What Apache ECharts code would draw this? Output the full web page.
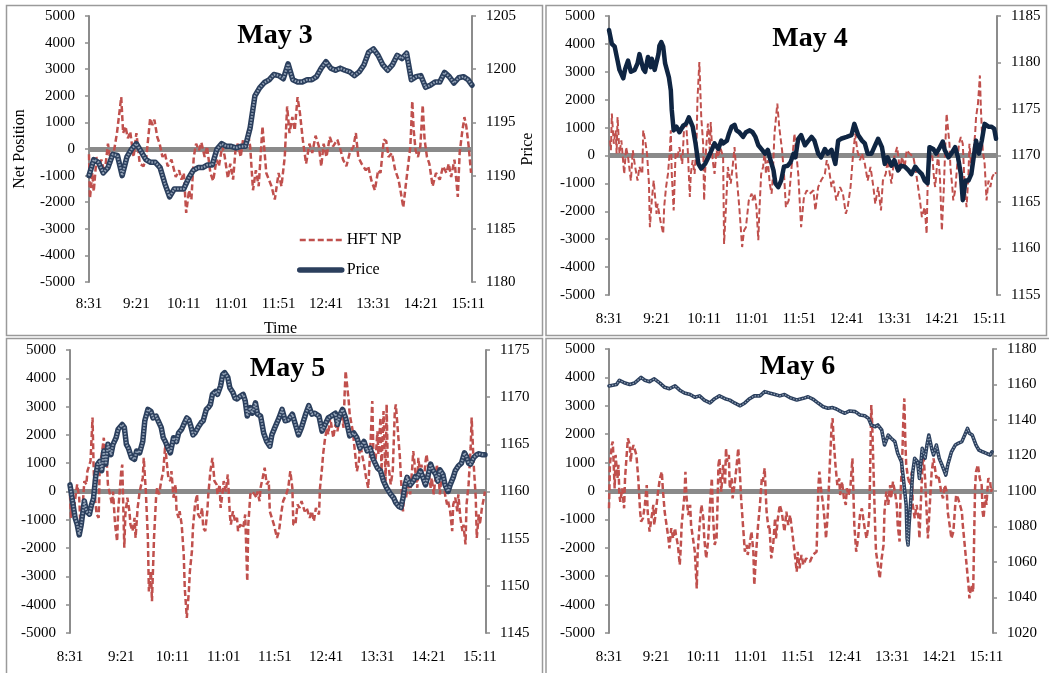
<!DOCTYPE html>
<html><head><meta charset="utf-8">
<script src="https://cdn.jsdelivr.net/npm/echarts@6/dist/echarts.min.js"></script>
<style>html,body{margin:0;padding:0;background:#fff}#c{width:1049px;height:673px}</style>
</head><body><div id="c"></div>
<script>
// ---------------- DATA (time = minutes after 8:31) ----------------
const timeLabels = ['8:31','9:21','10:11','11:01','11:51','12:41','13:31','14:21','15:11'];
const dayTitles = ['May 3','May 4','May 5','May 6'];
const netPosAxis = [-5000, 5000, 1000];
const priceAxes = [[1180,1205,5],[1155,1185,5],[1145,1175,5],[1020,1180,20]];

const may3NetPos = [[0,-200],[1,-1850],[3.5,-900],[5,-1600],[8,-300],[10.5,-650],[13,-400],[16.5,-900],[20,200],[23,-550],
[26,-150],[29.5,600],[34,1950],[36,600],[38.5,850],[41,400],[43.5,650],[47,-300],[50,600],[53.5,-550],
[57.5,-650],[60.5,-300],[64.5,1150],[67,900],[69,1100],[72,450],[74.5,200],[77.5,-300],[80,-150],[83,-650],
[87,-400],[91.5,-1050],[95,-800],[97.5,-1150],[100,-900],[102.5,-2400],[105.5,-1550],[108,-1900],[110.5,-300],[113,200],
[116,-50],[118.5,250],[122,-300],[124.5,100],[128,-900],[131,-1200],[134.5,-400],[137,-650],[140.5,100],[143,-250],
[146.5,-1100],[149,-550],[152,-1150],[154.5,-50],[157,200],[160,-300],[162.5,350],[166,200],[167.5,650],[170,100],
[173,-1550],[176,-800],[179,-1400],[183,850],
[187,-900],[192.5,-1400],[196,-1900],[200,-900],[203,-1400],[206.5,-300],[209,1600],[211.5,600],[214.5,1200],[217,700],
[220,1950],[222.5,1350],[225.5,350],[229,-550],[232.5,200],[235.5,-150],[239,500],[242.5,100],[245,-650],[247.5,200],
[250.5,-300],[254,450],[257.5,100],[262,350],[265,0],[268,-400],[271.5,-650],[275,-150],[279,100],[281.5,600],
[284,-300],[287.5,-550],[292,-800],[294.5,-650],[298,-1200],[301.5,-1550],[305,-800],[307.5,-900],[311,350],[313.5,300],
[316,-300],[319.5,-150],[323,-800],[326.5,-1150],[329,-1650],[331.5,-2200],[334,-1400],[336.5,-650],[339,100],[341,1800],
[342.5,700],[344.5,-50],[347,-300],[349.5,100],[352,1650],[354,350],[356.5,-300],[359,-550],[362.5,-1400],[366,-900],
[370,-1150],[373.5,-650],[377,-900],[379.5,-550],[382,-1050],[385.5,-400],[389,-1800],[391,-150],[393.5,600],[396,1200],
[398,850],[400.5,100],[403,-900]];

const may3Price = [[0,1190.0],[5,1191.5],[10,1191.25],[15,1190.25],[20,1190.75],[25,1192.0],[30,1191.9],[35,1190.0],[40,1191.75],[45,1192.5],
[50,1193.0],[55,1192.25],[60,1191.5],[65,1191.25],[70,1191.25],[75,1190.75],[80,1189.25],[85,1188.0],[90,1188.75],[95,1188.75],
[100,1188.75],[105,1189.75],[110,1190.5],[115,1190.75],[120,1190.75],[125,1191.0],[130,1191.0],[135,1192.5],[140,1193.0],[145,1192.75],
[150,1192.75],[155,1192.6],[160,1192.75],[165,1192.75],[170,1194.5],[175,1197.5],[180,1198.25],[185,1198.75],[190,1199.0],[195,1199.5],
[200,1199.4],[205,1199.1],[210,1200.5],[215,1199.0],[220,1198.8],[225,1198.8],[230,1199.0],[235,1199.0],[240,1199.3],[245,1200.1],
[250,1200.7],[255,1200.1],[260,1199.9],[265,1200.1],[270,1199.9],[275,1199.75],[280,1199.4],[285,1199.75],[290,1200.4],[295,1201.6],
[300,1201.9],[305,1201.3],[310,1200.4],[315,1199.9],[320,1200.4],[325,1201.3],[330,1201.0],[335,1201.5],[340,1199.0],[345,1199.3],
[350,1199.4],[355,1198.3],[360,1198.5],[365,1198.8],[370,1198.8],[375,1199.7],[380,1199.3],[385,1198.7],[390,1199.2],[395,1199.3],
[400,1199.0],[404,1198.5]];

const may4NetPos = [[1,540],[2,190],[3,1500],[5,420],[7,900],[8,70],[9,1380],[11,70],[13,540],[16,-660],[18,300],[20,-50],[23,-900],[25,190],[27,-300],[30,-900],[32,-410],[35,-660],[36,900],[38,540],
[40,70],[42,-1000],[43,-2570],[45,-1600],[47,-900],[50,-2090],[51,-1730],[54,-2330],[57,-2800],[58,-1850],[60,-1130],[62,-660],[64,190],[65,900],[66,-660],[68,-1970],[70,70],[72,-50],[74,300],[77,-300],
[79,1020],[81,1260],[83,70],[85,-1490],[86,-660],[88,-170],[90,-660],[92,420],[93,1980],[95,3350],[97,1380],[99,420],[100,-1610],[102,190],[104,1140],[106,190],[107,1200],[109,-170],[111,-660],[113,190],
[115,-50],[117,300],[120,-50],[121,-3170],[123,-1850],[125,-410],[128,-1010],[130,-410],[132,300],[134,-660],[137,-1850],[140,-3280],[142,-2690],[144,-2570],[147,-1610],[150,-1370],[151,-1610],[153,-1370],[155,-1850],[157,-3040],
[158,-2090],[160,-660],[162,-410],[164,190],[165,-660],[167,-170],[169,-1010],[171,-1370],[172,-900],[174,780],[177,1860],[179,1020],[182,190],[184,-660],[186,-1850],[189,-1610],[192,-410],[195,780],[199,-660],[202,-2570],
[205,-1490],[208,-1250],[211,-1370],[215,-1250],[217,-1970],[220,-1130],[223,-900],[227,-660],[229,-170],[231,-410],[234,-1130],[236,-900],[239,-1610],[243,-1130],[246,-1370],[249,-2090],[251,-1850],[254,-1130],[257,190],[259,780],
[261,190],[264,-170],[266,70],[269,-300],[272,-900],[275,-410],[278,-1130],[280,-1730],[283,-1130],[286,-1970],[288,-900],[291,-660],[293,-170],[297,-1010],[300,-50],[303,300],[306,-540],[308,-50],[311,-410],[313,190],
[316,70],[320,-50],[322,-410],[325,-1130],[327,-1610],[329,-2210],[332,-1850],[334,-2810],[335,-1130],[337,70],[340,-50],[342,-900],[343,-1130],[346,70],[348,-770],[350,-2690],[352,-1250],[354,660],[355,1500],[358,420],
[359,-410],[361,-1130],[362,-1610],[364,-1250],[366,-410],[368,420],[370,660],[372,420],[374,-1130],[376,-1850],[378,-660],[379,420],[381,-410],[383,70],[385,780],[386,1380],[388,1860],[390,2870],[391,1740],[393,190],
[395,-300],[397,-1610],[399,-900],[401,-1130],[403,-770],[406,-590],[407,-660]];

const may4Price = [[0,1183.5],[3,1182.0],[6,1181.7],[9,1180.2],[11,1179.2],[15,1178.3],[17,1179.3],[20,1180.2],[23,1179.0],[27,1179.2],
[30,1179.9],[32,1180.9],[36,1179.3],[38,1179.0],[41,1180.6],[44,1179.5],[45,1180.4],[48,1179.2],[52,1180.9],[53,1181.8],
[55,1182.2],[57,1181.7],[59,1179.9],[63,1178.4],[65,1177.0],[66,1174.9],[68,1172.7],[71,1173.1],[74,1172.5],[78,1173.2],
[81,1173.4],[84,1174.1],[86,1174.1],[88,1173.1],[91,1171.3],[94,1169.1],[97,1168.6],[101,1169.1],[104,1169.7],[108,1170.6],
[111,1171.3],[115,1170.7],[118,1171.6],[120,1171.3],[124,1171.6],[126,1172.3],[129,1173.1],[132,1173.3],[134,1172.7],[137,1172.5],
[141,1172.0],[144,1172.5],[148,1172.7],[151,1172.5],[154,1172.0],[157,1171.1],[161,1170.6],[164,1170.2],[167,1170.6],[169,1169.8],
[173,1168.4],[175,1167.0],[178,1166.6],[181,1167.3],[184,1168.8],[188,1168.9],[191,1169.3],[194,1170.2],[196,1169.8],[199,1171.8],
[202,1172.2],[206,1171.1],[209,1171.5],[213,1172.0],[216,1171.6],[220,1170.2],[223,1169.8],[227,1170.7],[230,1170.2],[234,1170.6],
[238,1169.1],[241,1171.6],[244,1171.8],[250,1172.0],[255,1172.2],[258,1173.4],[262,1172.2],[266,1171.6],[269,1171.3],[272,1170.2],
[276,1170.2],[279,1170.9],[283,1171.8],[287,1170.9],[290,1169.1],[293,1169.8],[297,1168.9],[300,1169.5],[304,1168.4],[307,1168.9],
[311,1168.8],[315,1168.4],[318,1168.0],[322,1168.8],[325,1168.4],[329,1168.0],[332,1167.3],[335,1167.0],[337,1170.9],[341,1170.7],
[344,1170.2],[348,1170.9],[351,1171.5],[353,1170.6],[357,1169.8],[360,1170.2],[364,1170.9],[367,1169.8],[370,1168.0],[372,1165.2],
[375,1167.3],[378,1167.3],[381,1168.0],[384,1170.2],[386,1171.6],[389,1170.2],[392,1171.6],[395,1173.4],[399,1173.1],[402,1173.1],
[405,1172.9],[407,1171.8]];

const may5NetPos = [[0,-100],[1,-930],[2,-220],[4,-580],[6,0],[7,250],[9,-220],[10,-1050],[12,-700],[14,370],[16,250],[17,720],[20,1070],[22,2610],[23,950],[24,-100],[26,-810],[28,-930],[29,950],[31,1310],
[33,1900],[34,1430],[36,950],[37,250],[39,-100],[41,-460],[42,0],[44,-1170],[46,-1760],[47,-700],[50,720],[51,950],[53,-1990],[54,-810],[56,-220],[58,-700],[59,-1170],[61,-1400],[63,-930],[64,-1640],
[66,-580],[68,0],[71,480],[72,1190],[74,0],[76,-1640],[77,-3530],[79,-2820],[80,-3880],[82,-1640],[84,-220],[85,130],[87,-100],[89,370],[91,720],[93,1660],[94,1190],[96,480],[98,370],[99,720],
[101,-220],[103,250],[104,-700],[106,-930],[107,-700],[109,-1170],[111,-2230],[112,-3410],[114,-4470],[116,-3530],[117,-2820],[119,-2110],[120,-1290],[122,-460],[124,-100],[125,-810],[127,-930],[129,-580],[130,-1290],[132,-1400],
[134,-700],[135,-100],[137,720],[139,1190],[141,370],[143,250],[144,-100],[146,250],[147,-580],[149,0],[150,370],[152,0],[154,600],[156,-810],[157,-1170],[159,-700],[161,-1050],[163,-930],[164,-1400],[166,-1170],
[169,-1290],[171,-810],[173,-3170],[174,-1170],[176,-100],[178,0],[180,-100],[182,-220],[183,0],[185,-340],[186,130],[188,480],[190,840],[192,250],[194,370],[195,-700],[199,-1170],[202,-1640],[204,-1400],[206,-810],
[208,-340],[211,-100],[213,130],[215,720],[217,130],[218,-1170],[220,-1170],[222,-460],[224,-580],[226,-340],[229,-700],[231,-580],[234,-930],[236,-700],[238,-1050],[240,-580],[243,-810],[244,130],[246,840],[247,1310],
[249,1900],[251,2250],[252,2020],[254,2610],[256,2130],[257,1900],[259,2370],[261,2130],[263,2610],[265,2720],[267,2250],[268,3430],[269,4260],[271,3550],[272,3200],[273,2720],[276,2130],[278,1430],[280,720],[282,1070],
[283,1780],[285,1310],[287,950],[289,480],[291,130],[293,1430],[295,3200],[296,1540],[298,950],[300,2130],[301,1310],[303,2610],[304,720],[306,2840],[308,370],[309,3080],[310,1190],[313,250],[315,720],[317,2840],
[318,3080],[320,2130],[322,1190],[323,480],[325,-700],[327,250],[328,-220],[330,370],[332,-100],[334,840],[335,1430],[337,720],[339,130],[340,1190],[342,480],[343,950],[345,250],[347,1070],[348,1310],[350,720],
[352,130],[353,480],[355,-100],[356,250],[358,950],[360,370],[361,-100],[363,720],[365,370],[366,-100],[368,-460],[369,-340],[371,-700],[373,-1400],[374,-460],[376,-220],[378,-700],[379,-100],[381,-930],[383,-1400],
[384,-1170],[386,-1870],[387,-460],[389,250],[391,1540],[392,2610],[394,950],[396,-220],[397,-1640],[399,-810],[400,-1170],[402,-580],[404,-220],[405,0]];

const may5Price = [[0,1160.7],[3,1158.6],[5,1157.2],[7,1156.5],[9,1155.4],[11,1156.5],[14,1159.0],[16,1157.9],[19,1157.6],[21,1158.6],
[23,1159.3],[25,1161.5],[27,1162.9],[29,1163.2],[31,1162.2],[33,1164.3],[35,1162.9],[37,1165.0],[40,1163.9],[42,1165.0],
[45,1165.7],[47,1166.6],[51,1167.1],[53,1166.8],[55,1165.0],[57,1164.6],[60,1163.6],[63,1163.4],[65,1164.3],[68,1164.1],
[71,1165.3],[73,1167.5],[76,1168.7],[79,1168.5],[81,1167.8],[84,1168.0],[86,1167.5],[89,1166.8],[91,1165.7],[93,1165.3],
[96,1164.5],[98,1164.1],[101,1165.7],[104,1165.3],[106,1166.2],[109,1166.6],[111,1167.1],[114,1167.8],[116,1167.6],[118,1166.9],
[120,1166.0],[122,1166.2],[125,1166.8],[128,1167.3],[130,1167.5],[133,1168.7],[135,1168.9],[137,1169.2],[139,1170.3],[142,1170.6],
[144,1170.3],[147,1171.2],[149,1172.4],[151,1172.6],[154,1172.1],[156,1171.0],[159,1170.5],[161,1169.9],[163,1169.8],[166,1170.1],
[169,1170.3],[171,1169.6],[173,1168.0],[176,1168.9],[178,1168.3],[181,1169.4],[183,1168.2],[186,1168.0],[189,1166.2],[192,1165.3],
[195,1164.8],[197,1166.0],[200,1166.8],[204,1167.8],[207,1168.7],[210,1167.5],[213,1167.6],[217,1168.2],[220,1167.1],[223,1166.0],
[226,1166.8],[230,1168.2],[233,1169.1],[236,1168.2],[239,1168.3],[243,1168.0],[246,1166.4],[249,1167.1],[252,1167.8],[255,1168.0],
[259,1168.3],[261,1167.1],[263,1168.0],[266,1168.7],[269,1167.8],[271,1166.9],[273,1165.9],[277,1166.2],[280,1165.7],[283,1164.6],
[287,1165.3],[290,1164.3],[293,1164.6],[296,1163.4],[300,1162.5],[303,1162.2],[306,1161.1],[309,1160.4],[313,1159.7],[316,1159.3],
[318,1158.8],[321,1158.4],[323,1158.3],[325,1159.3],[327,1160.7],[329,1161.5],[332,1160.7],[335,1161.1],[337,1161.6],[339,1161.5],
[342,1162.2],[344,1161.6],[347,1160.7],[349,1161.5],[352,1162.9],[354,1162.3],[357,1161.8],[359,1161.1],[361,1162.3],[364,1161.8],
[366,1160.7],[369,1160.0],[371,1160.7],[374,1161.5],[376,1162.2],[379,1162.7],[382,1163.0],[385,1164.1],[387,1163.7],[389,1163.0],
[391,1162.9],[394,1163.6],[397,1163.9],[399,1164.0],[402,1163.9],[405,1163.9]];

const may6NetPos = [[0,-610],[1,920],[3,1620],[4,1740],[5,920],[6,90],[7,1270],[9,450],[10,920],[11,-140],[12,-380],[14,90],[16,-610],[17,450],[19,1390],[20,1850],[22,1620],[23,1030],[24,1390],[26,1620],
[27,1500],[29,1270],[31,450],[33,-730],[34,-1080],[36,-960],[38,-490],[40,210],[41,-730],[43,-1430],[45,-960],[47,-490],[48,-1200],[50,-610],[52,-20],[54,450],[56,680],[57,90],[59,-730],[61,-1200],
[63,-1670],[64,-2020],[66,-1310],[68,-1670],[70,-1310],[71,-1550],[73,-1900],[75,-2600],[76,-2020],[77,-1200],[80,-140],[81,680],[82,-140],[84,-850],[86,-490],[87,-1200],[89,-1670],[91,-2140],[93,-3430],[94,-2140],
[96,-1200],[98,-490],[100,-960],[101,-1670],[103,-2370],[105,-1780],[107,-490],[109,450],[110,-730],[112,-1900],[114,-1670],[115,-490],[116,920],[117,1150],[119,-20],[121,920],[123,210],[124,1500],[125,1030],[127,1270],
[128,90],[130,450],[131,-260],[133,210],[135,800],[137,1500],[139,450],[140,-260],[142,-1200],[144,-2140],[146,-1900],[147,-2250],[149,-1900],[151,-1430],[153,-2140],[154,-3310],[156,-2140],[158,-1200],[160,-490],[162,450],
[163,330],[165,800],[167,-730],[169,-1310],[170,-1200],[172,-2370],[174,-1900],[176,-960],[177,-1670],[179,-960],[181,-490],[183,-730],[185,-1200],[186,-1430],[188,-730],[190,-1200],[192,-850],[195,-1670],[199,-2840],[200,-2140],
[202,-2720],[204,-2250],[206,-2600],[209,-2370],[213,-2490],[216,-2250],[220,-2140],[222,210],[223,680],[225,-20],[227,-490],[229,-1200],[230,-1670],[232,-730],[234,920],[236,2320],[237,2560],[238,1850],[240,920],[242,210],
[244,450],[245,-140],[247,330],[249,-260],[251,-490],[252,90],[254,-140],[256,210],[258,1150],[259,-20],[260,-1200],[262,-2140],[264,-1670],[266,-850],[268,-610],[269,-850],[271,-1310],[273,-1670],[275,-1200],[276,-730],
[278,3030],[279,2320],[281,-20],[282,-1200],[283,-2140],[285,-2600],[287,-3080],[289,-2370],[291,-1900],[292,-730],[294,-20],[296,-490],[298,210],[299,-260],[301,330],[303,-20],[305,-490],[306,-1200],[308,-1780],[309,-140],
[311,1390],[312,2560],[313,3260],[314,1850],[315,920],[317,450],[319,210],[321,680],[322,-490],[324,-960],[326,-490],[328,-960],[329,-1670],[331,-20],[333,1390],[335,450],[336,-260],[338,-1670],[340,-490],[342,680],
[344,1150],[345,920],[347,450],[349,560],[351,210],[352,-20],[354,-260],[356,210],[358,-20],[359,-730],[361,-1200],[363,-1670],[365,-1430],[367,-490],[368,-140],[370,-260],[372,-490],[374,-730],[375,-1200],[377,-1900],
[379,-2600],[381,-3310],[382,-3780],[384,-3310],[386,-3550],[387,-1670],[388,90],[389,680],[391,920],[393,450],[395,210],[396,-730],[397,-960],[399,-140],[400,-490],[402,450],[404,330],[405,-20],[406,90]];

const may6Price = [[0,1159.2],[8,1160.0],[11,1162.4],[17,1160.8],[22,1160.0],[27,1160.8],[34,1164.0],[38,1162.4],[43,1161.6],[48,1163.2],
[54,1160.8],[59,1158.4],[64,1157.6],[70,1159.2],[75,1156.8],[80,1155.2],[86,1154.4],[91,1152.8],[96,1153.6],[101,1151.2],
[107,1149.6],[112,1152.0],[117,1153.6],[123,1152.0],[128,1151.2],[133,1149.6],[139,1148.0],[144,1149.6],[149,1152.0],[154,1153.6],
[160,1153.6],[165,1156.0],[170,1155.2],[176,1154.4],[181,1153.6],[186,1154.4],[192,1152.5],[199,1151.3],[206,1152.2],[211,1153.1],
[216,1151.8],[222,1149.4],[227,1147.5],[232,1146.6],[237,1147.0],[241,1146.2],[246,1144.7],[250,1143.8],[255,1145.1],[261,1144.7],
[266,1142.8],[271,1142.4],[275,1140.9],[278,1137.2],[282,1136.2],[285,1137.2],[289,1134.4],[292,1125.9],[296,1131.5],[299,1129.7],
[303,1127.8],[306,1121.2],[310,1116.5],[312,1107.1],[315,1092.1],[316,1073.3],[317,1069.6],[318,1080.8],[320,1095.9],[322,1110.9],
[324,1118.4],[327,1116.5],[329,1107.1],[332,1124.0],[335,1118.4],[337,1125.9],[339,1131.5],[342,1124.0],[344,1120.3],[347,1125.9],
[350,1118.4],[353,1114.6],[357,1109.0],[359,1114.6],[363,1122.1],[367,1125.9],[370,1126.8],[374,1127.8],[377,1131.5],[380,1135.3],
[382,1132.5],[385,1131.5],[389,1125.9],[392,1123.1],[396,1122.1],[400,1121.2],[404,1120.3],[406,1122.1]];

// ---------------- LAYOUT / STYLE ----------------
const FONT = 'Liberation Serif';
const AXIS_GREY = '#8c8c8c';
const NP_RED = '#c0504d';
const panels = [
  {np: may3NetPos, price: may3Price, grid:{left:89,top:16,width:383,height:266}, xMax:404, labelMargin:15, npWidth:2.5,
   pStyle:{base:'#2b3f5d', width:5.5, tex:'#93a2b6', texWidth:2.2}, title:[275,35.5]},
  {np: may4NetPos, price: may4Price, grid:{left:609,top:16,width:388,height:279}, xMax:408, labelMargin:17, npWidth:2,
   pStyle:{base:'#0f2542', width:4.5}, title:[810,38.8]},
  {np: may5NetPos, price: may5Price, grid:{left:70,top:350,width:416,height:283}, xMax:406, labelMargin:17, npWidth:2.5,
   pStyle:{base:'#2b3f5d', width:5.5, tex:'#93a2b6', texWidth:2.2}, title:[287.5,368.5]},
  {np: may6NetPos, price: may6Price, grid:{left:609,top:349,width:384,height:284}, xMax:407, labelMargin:17, npWidth:2.5,
   pStyle:{base:'#2b3f5d', width:3.6, tex:'#9aa9bc', texWidth:1.2}, title:[797.5,366.8]}
];

const grids = [], xAxes = [], yAxes = [], series = [], graphics = [];
const lbl = {fontFamily: FONT, fontSize: 15, color: '#000'};
const plain = (v) => String(v);

panels.forEach((p, i) => {
  grids.push(Object.assign({containLabel:false}, p.grid));
  xAxes.push({
    type:'value', gridIndex:i, min:0, max:p.xMax, interval:50,
    axisLine:{show:false, onZero:false}, axisTick:{show:false}, splitLine:{show:false},
    axisLabel:Object.assign({margin:p.labelMargin, formatter:(v)=> (v % 50 === 0 && timeLabels[v/50]) ? timeLabels[v/50] : ''}, lbl),
    name: i === 0 ? 'Time' : '', nameLocation:'middle', nameGap:39,
    nameTextStyle:{fontFamily:FONT, fontSize:16, color:'#000'}
  });
  const yCommon = {
    type:'value', gridIndex:i,
    axisLine:{show:true, onZero:false, lineStyle:{color:AXIS_GREY, width:2}},
    axisTick:{show:true, length:4, lineStyle:{color:AXIS_GREY, width:1.5}},
    splitLine:{show:false}
  };
  yAxes.push(Object.assign({}, yCommon, {
    position:'left', min:netPosAxis[0], max:netPosAxis[1], interval:netPosAxis[2],
    axisLabel:Object.assign({margin:14, formatter:plain}, lbl),
    name: i === 0 ? 'Net Position' : '', nameLocation:'middle', nameGap:61, nameRotate:90,
    nameTextStyle:{fontFamily:FONT, fontSize:16, color:'#000'}
  }));
  const pr = priceAxes[i];
  yAxes.push(Object.assign({}, yCommon, {
    position:'right', min:pr[0], max:pr[1], interval:pr[2],
    axisLabel:Object.assign({margin:14, formatter:plain}, lbl),
    name: i === 0 ? 'Price' : '', nameLocation:'middle', nameGap:48, nameRotate:90,
    nameTextStyle:{fontFamily:FONT, fontSize:16, color:'#000'}
  }));
  series.push({
    type:'line', name:'HFT NP', xAxisIndex:i, yAxisIndex:2*i, data:p.np,
    symbol:'none', showSymbol:false, z:3, emphasis:{disabled:true},
    itemStyle:{color:NP_RED},
    lineStyle:{color:NP_RED, width:p.npWidth, type:[6,3]},
    markLine:{silent:true, symbol:'none', z:2, label:{show:false}, emphasis:{disabled:true},
      lineStyle:{color:'#8a8a8a', width:5, type:'solid'}, data:[{yAxis:0}]}
  });
  series.push({
    type:'line', name:'Price', xAxisIndex:i, yAxisIndex:2*i+1, data:p.price,
    symbol:'none', showSymbol:false, z:6, emphasis:{disabled:true},
    itemStyle:{color:p.pStyle.base},
    lineStyle:{color:p.pStyle.base, width:p.pStyle.width, join:'round', cap:'round'}
  });
  if (p.pStyle.tex) {
    series.push({
      type:'line', name:'Price texture', xAxisIndex:i, yAxisIndex:2*i+1, data:p.price,
      symbol:'none', showSymbol:false, z:7, emphasis:{disabled:true},
      itemStyle:{color:p.pStyle.tex},
      lineStyle:{color:p.pStyle.tex, width:p.pStyle.texWidth, type:[1.5,1.5], join:'round'}
    });
  }
  graphics.push({type:'text', x:p.title[0], y:p.title[1], z:10,
    style:{text:dayTitles[i], font:'bold 28px "' + FONT + '"', fill:'#000', align:'center', verticalAlign:'middle'}});
});

// panel frames
[[6.5,5.5,536,330],[546,5.5,500.5,330],[6.5,338.5,536,340],[546,338.5,510,340]].forEach(r => {
  graphics.push({type:'rect', z:0, shape:{x:r[0], y:r[1], width:r[2], height:r[3]},
    style:{fill:'none', stroke:'#9a9a9a', lineWidth:1.5}});
});

const chart = echarts.init(document.getElementById('c'), null, {renderer:'canvas'});
chart.setOption({
  animation:false,
  backgroundColor:'#fff',
  grid:grids, xAxis:xAxes, yAxis:yAxes, series:series,
  legend:{data:['HFT NP','Price'], orient:'vertical', left:297, top:232, padding:0, itemWidth:42, itemHeight:16, itemGap:14,
    selectedMode:false, itemStyle:{opacity:0}, lineStyle:{width:'inherit'},
    textStyle:{fontFamily:FONT, fontSize:16, color:'#000'}},
  graphic:graphics
});
</script>
</body></html>
